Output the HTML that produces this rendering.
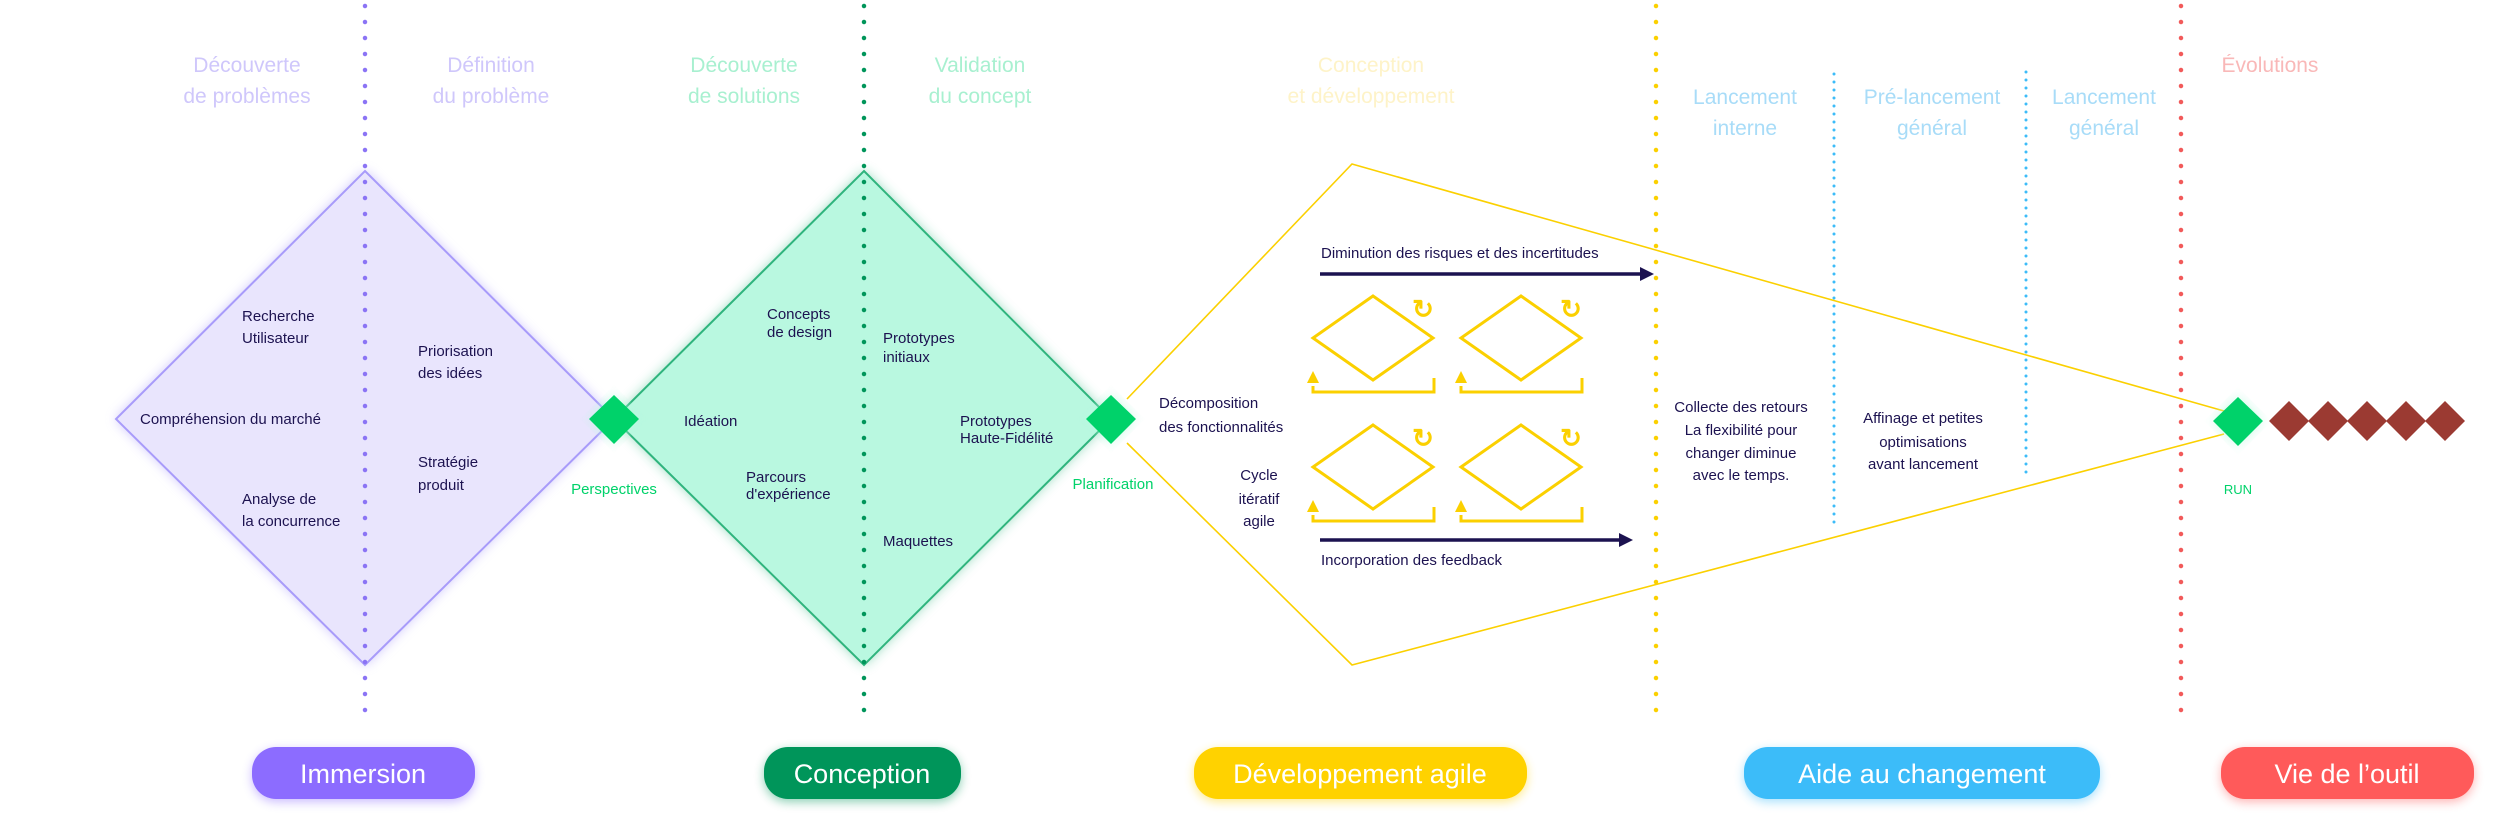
<!DOCTYPE html>
<html><head><meta charset="utf-8"><style>
html,body{margin:0;padding:0;background:#fff;}
svg{display:block;font-family:"Liberation Sans",sans-serif;}
.b{fill:#1c1250;font-size:15px;}
.h{font-size:21px;}
.p{font-size:27px;fill:#fff;text-anchor:middle;}
</style></head><body>
<svg width="2500" height="825" viewBox="0 0 2500 825" xmlns="http://www.w3.org/2000/svg">
<defs>
<filter id="gl" x="-20%" y="-20%" width="140%" height="140%"><feGaussianBlur stdDeviation="6"/></filter>
<filter id="sh" x="-20%" y="-40%" width="140%" height="180%"><feGaussianBlur stdDeviation="5"/></filter>
<g id="cyc" fill="none" stroke="#fbd000" stroke-width="3">
<polygon points="0,-42 60,0 0,42 -60,0"/>
<polyline points="-60,48 -60,54 61,54 61,40"/>
</g>
</defs>
<polygon points="365,171 614,419 365,665 116,419" fill="#a89bfa" opacity="0.6" filter="url(#gl)"/>
<polygon points="864,171 1111,419 864,665 614,419" fill="#27b47a" opacity="0.5" filter="url(#gl)"/>
<polygon points="365,171 614,419 365,665 116,419" fill="#e9e5fd" stroke="#a89bfa" stroke-width="2"/>
<polygon points="864,171 1111,419 864,665 614,419" fill="#b9f8e0" stroke="#2fb47d" stroke-width="2"/>
<line x1="365" y1="6" x2="365" y2="718" stroke="#8b74f5" stroke-width="4.5" stroke-linecap="round" stroke-dasharray="0 16"/>
<line x1="864" y1="6" x2="864" y2="718" stroke="#00955a" stroke-width="4.5" stroke-linecap="round" stroke-dasharray="0 16"/>
<line x1="1656" y1="6" x2="1656" y2="718" stroke="#fbd000" stroke-width="4.5" stroke-linecap="round" stroke-dasharray="0 16"/>
<line x1="2181" y1="6" x2="2181" y2="718" stroke="#f25a5a" stroke-width="4.5" stroke-linecap="round" stroke-dasharray="0 16"/>
<line x1="1834" y1="74" x2="1834" y2="530" stroke="#3cbcf9" stroke-width="3" stroke-linecap="round" stroke-dasharray="0 8"/>
<line x1="2026" y1="72" x2="2026" y2="480" stroke="#3cbcf9" stroke-width="3" stroke-linecap="round" stroke-dasharray="0 8"/>
<polyline points="1127,399 1352,164 2224,411" fill="none" stroke="#fbd000" stroke-width="1.6"/>
<polyline points="1127,443 1352,665 2224,434" fill="none" stroke="#fbd000" stroke-width="1.6"/>
<g fill="#b9f8e0" opacity="0.8"><rect x="597" y="402" width="34" height="34" transform="rotate(45 614 419)" filter="url(#gl)"/><rect x="1094" y="402" width="34" height="34" transform="rotate(45 1111 419)" filter="url(#gl)"/><rect x="2221" y="404" width="34" height="34" transform="rotate(45 2238 421)" filter="url(#gl)"/></g>
<polygon points="614,395 639,419 614,444 589,419" fill="#00d26a"/>
<polygon points="1111,395 1136,419 1111,444 1086,419" fill="#00d26a"/>
<polygon points="2238,397 2263,421 2238,446 2213,421" fill="#00d26a"/>
<g fill="#9b3a32">
<polygon points="2289,401 2309,421 2289,441 2269,421"/>
<polygon points="2328,401 2348,421 2328,441 2308,421"/>
<polygon points="2367,401 2387,421 2367,441 2347,421"/>
<polygon points="2406,401 2426,421 2406,441 2386,421"/>
<polygon points="2445,401 2465,421 2445,441 2425,421"/>
</g>
<use href="#cyc" x="1373" y="338"/><use href="#cyc" x="1521" y="338"/>
<use href="#cyc" x="1373" y="467"/><use href="#cyc" x="1521" y="467"/>
<g fill="#fbd000">
<polygon points="1313,371 1307,383 1319,383"/><polygon points="1461,371 1455,383 1467,383"/>
<polygon points="1313,500 1307,512 1319,512"/><polygon points="1461,500 1455,512 1467,512"/>
</g>
<g fill="#fbd000" font-size="26" font-weight="bold" text-anchor="middle">
<text x="1423" y="318">↻</text><text x="1571" y="318">↻</text>
<text x="1423" y="447">↻</text><text x="1571" y="447">↻</text>
</g>
<line x1="1320" y1="274" x2="1642" y2="274" stroke="#1c1250" stroke-width="3.5"/>
<polygon points="1654,274 1640,267 1640,281" fill="#1c1250"/>
<line x1="1320" y1="540" x2="1621" y2="540" stroke="#1c1250" stroke-width="3.5"/>
<polygon points="1633,540 1619,533 1619,547" fill="#1c1250"/>
<g class="h" text-anchor="middle">
<g fill="#cfc7fb"><text x="247" y="72">Découverte</text><text x="247" y="103">de problèmes</text>
<text x="491" y="72">Définition</text><text x="491" y="103">du problème</text></g>
<g fill="#a8f0d0"><text x="744" y="72">Découverte</text><text x="744" y="103">de solutions</text>
<text x="980" y="72">Validation</text><text x="980" y="103">du concept</text></g>
<g fill="#fef3c8"><text x="1371" y="72">Conception</text><text x="1371" y="103">et développement</text></g>
<g fill="#a8dcf8"><text x="1745" y="104">Lancement</text><text x="1745" y="135">interne</text>
<text x="1932" y="104">Pré-lancement</text><text x="1932" y="135">général</text>
<text x="2104" y="104">Lancement</text><text x="2104" y="135">général</text></g>
<text x="2270" y="72" fill="#f9b8b8">Évolutions</text>
</g>
<g class="b">
<text x="242" y="321">Recherche</text><text x="242" y="343">Utilisateur</text>
<text x="418" y="356">Priorisation</text><text x="418" y="378">des idées</text>
<text x="140" y="424">Compréhension du marché</text>
<text x="418" y="467">Stratégie</text><text x="418" y="490">produit</text>
<text x="242" y="504">Analyse de</text><text x="242" y="526">la concurrence</text>
<text x="767" y="319">Concepts</text><text x="767" y="337">de design</text>
<text x="883" y="343">Prototypes</text><text x="883" y="362">initiaux</text>
<text x="684" y="426">Idéation</text>
<text x="960" y="426">Prototypes</text><text x="960" y="443">Haute-Fidélité</text>
<text x="746" y="482">Parcours</text><text x="746" y="499">d'expérience</text>
<text x="883" y="546">Maquettes</text>
<text x="1159" y="408">Décomposition</text><text x="1159" y="432">des fonctionnalités</text>
<g text-anchor="middle"><text x="1259" y="480">Cycle</text><text x="1259" y="504">itératif</text><text x="1259" y="526">agile</text></g>
<text x="1321" y="258">Diminution des risques et des incertitudes</text>
<text x="1321" y="565">Incorporation des feedback</text>
<g text-anchor="middle"><text x="1741" y="412">Collecte des retours</text><text x="1741" y="435">La flexibilité pour</text><text x="1741" y="458">changer diminue</text><text x="1741" y="480">avec le temps.</text>
<text x="1923" y="423">Affinage et petites</text><text x="1923" y="447">optimisations</text><text x="1923" y="469">avant lancement</text></g>
</g>
<g fill="#00d26a" font-size="15" text-anchor="middle"><text x="614" y="494">Perspectives</text><text x="1113" y="489">Planification</text><text x="2238" y="494" font-size="13">RUN</text></g>
<g opacity="0.45" filter="url(#sh)">
<rect x="252" y="750" width="223" height="52" rx="24" fill="#8c6cff"/>
<rect x="764" y="750" width="197" height="52" rx="24" fill="#00955a"/>
<rect x="1194" y="750" width="333" height="52" rx="24" fill="#ffd200"/>
<rect x="1744" y="750" width="356" height="52" rx="24" fill="#3cbcf9"/>
<rect x="2221" y="750" width="253" height="52" rx="24" fill="#ff5a5a"/>
</g>
<rect x="252" y="747" width="223" height="52" rx="24" fill="#8c6cff"/>
<rect x="764" y="747" width="197" height="52" rx="24" fill="#00955a"/>
<rect x="1194" y="747" width="333" height="52" rx="24" fill="#ffd200"/>
<rect x="1744" y="747" width="356" height="52" rx="24" fill="#3cbcf9"/>
<rect x="2221" y="747" width="253" height="52" rx="24" fill="#ff5a5a"/>
<text class="p" x="363" y="783">Immersion</text>
<text class="p" x="862" y="783">Conception</text>
<text class="p" x="1360" y="783">Développement agile</text>
<text class="p" x="1922" y="783">Aide au changement</text>
<text class="p" x="2347" y="783">Vie de l’outil</text>
</svg>
</body></html>
